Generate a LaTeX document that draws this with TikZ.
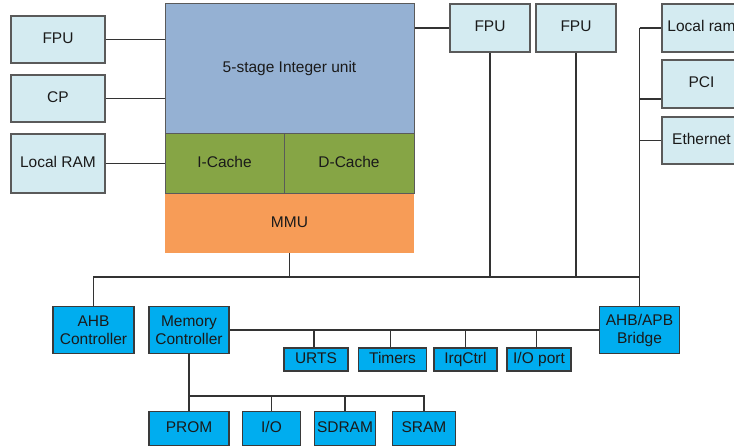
\documentclass[tikz,border=0pt]{standalone}
\usepackage{fontspec}
\setmainfont{Liberation Sans}
\definecolor{lightfill}{HTML}{D4EBF1}
\definecolor{lightedge}{HTML}{5A5A5A}
\definecolor{iufill}{HTML}{95B1D3}
\definecolor{cachefill}{HTML}{86A545}
\definecolor{mmufill}{HTML}{F79C57}
\definecolor{busfill}{HTML}{00ADEF}
\definecolor{busedge}{HTML}{3A3A3A}
\definecolor{wire}{HTML}{333333}
\definecolor{ink}{HTML}{1A1A1A}
\begin{document}
\begin{tikzpicture}[x=1pt,y=-1pt,
  sz/.style 2 args={minimum width=#1pt, minimum height=#2pt},
  blk/.style={inner sep=0pt, align=center, text=ink,
    font=\fontsize{15.5}{18}\selectfont},
  oneline/.style={text height=11pt, text depth=3.5pt},
  cfgbox/.style={blk, draw=lightedge, fill=lightfill, line width=1.2pt},
  corebox/.style={blk, draw=lightedge, line width=1pt},
  amba/.style={blk, draw=busedge, fill=busfill, line width=1.2pt},
  link/.style={draw=wire, line width=1.1pt}]

\useasboundingbox (0,0) rectangle (734,446);
\clip (0,0) rectangle (734,446);

% processor core
\node[corebox, oneline, fill=iufill, sz={249}{130}] (iu) at (289.5,69) {5-stage Integer unit};
\node[corebox, oneline, fill=cachefill, sz={119}{60}] (icache) at (224.5,164) {I-Cache};
\node[corebox, oneline, fill=cachefill, sz={130}{60}] (dcache) at (349,164) {D-Cache};
\node[blk, oneline, fill=mmufill, sz={249}{59}] (mmu) at (289.5,223.5) {MMU};

% units attached to the core
\node[cfgbox, oneline, sz={94}{47}] (lfpu) at (58,39.5) {FPU};
\node[cfgbox, oneline, sz={94}{47}] (lcp) at (58,98.5) {CP};
\node[cfgbox, oneline, sz={94}{59}] (lram) at (58,163.5) {Local RAM};
\node[cfgbox, oneline, sz={80}{48}] (fpua) at (490,28) {FPU};
\node[cfgbox, oneline, sz={80}{48}] (fpub) at (576,28) {FPU};
\node[cfgbox, oneline, sz={79}{48}] (rram) at (701.5,28) {Local ram};
\node[cfgbox, oneline, sz={79}{48}] (pci) at (701.5,84) {PCI};
\node[cfgbox, oneline, sz={79}{47}] (eth) at (701.5,140.5) {Ethernet};

% AMBA side
\node[amba, sz={81}{47}] (ahb) at (93.5,330) {AHB\\Controller};
\node[amba, sz={80}{47}] (memc) at (189,330) {Memory\\Controller};
\node[amba, sz={80}{47}] (bridge) at (639.5,330) {AHB/APB\\Bridge};
\node[amba, oneline, sz={64}{23}] (urts) at (316,359.5) {URTS};
\node[amba, oneline, sz={68}{23}] (timers) at (392.5,359.5) {Timers};
\node[amba, oneline, sz={63}{23}] (irq) at (465.5,359.5) {IrqCtrl};
\node[amba, oneline, sz={64}{23}] (iop) at (539,359.5) {I/O port};
\node[amba, oneline, sz={80}{34}] (prom) at (189,428.5) {PROM};
\node[amba, oneline, sz={58}{34}] (io) at (271.5,428.5) {I/O};
\node[amba, oneline, sz={61}{34}] (sdram) at (345,428.5) {SDRAM};
\node[amba, oneline, sz={63}{34}] (sram) at (424,428.5) {SRAM};

% links into the core
\draw[link] (lfpu.east) -- (lfpu.east -| iu.west);
\draw[link] (lcp.east) -- (lcp.east -| iu.west);
\draw[link] (lram.east) -- (lram.east -| icache.west);
\draw[link] (fpua.west -| iu.east) -- (fpua.west);

% AHB bus
\coordinate (busy) at (0,277);
\coordinate (busL) at (ahb.north |- busy);
\coordinate (busR) at (bridge.north |- busy);
\draw[link] (ahb.north) -- (busL) -- (busR);
\draw[link] (mmu.south) -- (mmu.south |- busy);
\draw[link] (fpua.south) -- (fpua.south |- busy);
\draw[link] (fpub.south) -- (fpub.south |- busy);

% right-hand spine
\coordinate (spine) at (bridge.north |- rram.west);
\draw[link] (spine) -- (bridge.north);
\draw[link] (spine) -- (rram.west);
\coordinate (pcitap) at (0,99);
\draw[link] (spine |- pcitap) -- (pci.west |- pcitap);
\draw[link] (spine |- eth.west) -- (eth.west);

% APB bus
\draw[link] (memc.east) -- (bridge.west);
\draw[link] (urts.north -| 314,0) -- (314,330);
\draw[link] (timers.north -| 390.5,0) -- (390.5,330);
\draw[link] (irq.north) -- (irq.north |- memc.east);
\draw[link] (iop.north -| 536.5,0) -- (536.5,330);

% memory bus
\coordinate (memy) at (0,396);
\draw[link] (memc.south) -- (prom.north);
\draw[link] (memc.south |- memy) -- (sram.north |- memy) -- (sram.north);
\draw[link] (io.north |- memy) -- (io.north);
\draw[link] (sdram.north |- memy) -- (sdram.north);
\end{tikzpicture}
\end{document}
